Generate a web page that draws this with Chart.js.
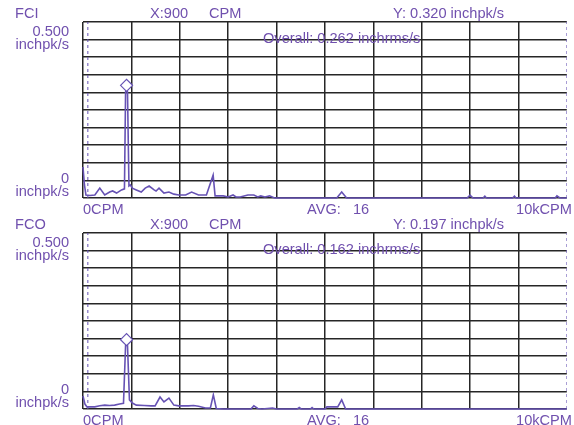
<!DOCTYPE html>
<html>
<head>
<meta charset="utf-8">
<script src="https://cdn.jsdelivr.net/npm/chart.js@4.4.0/dist/chart.umd.min.js"></script>
<style>
  html, body { margin: 0; padding: 0; background: #fff; }
  body { width: 574px; height: 425px; position: relative; overflow: hidden; }
  canvas { position: absolute; left: 0; }
  #fci { top: 0; }
  #fco { top: 211px; }
</style>
</head>
<body>
<canvas id="fci" width="574" height="214"></canvas>
<canvas id="fco" width="574" height="214"></canvas>
<script>
// spectrum points: frequency (CPM) and amplitude (inch/s pk)
const fciCpm = [0, 30, 61, 143, 245, 347, 449, 551, 612, 694, 796, 857, 880, 900, 920, 950, 980, 1020, 1102, 1204, 1286, 1367, 1470, 1510, 1571, 1673, 1776, 1878, 1980, 2122, 2245, 2388, 2551, 2690, 2730, 2898, 3000, 3102, 3163, 3250, 3408, 3531, 3612, 3673, 3760, 3857, 3959, 5245, 5347, 5449, 7939, 8000, 8061, 8270, 8306, 8340, 8880, 8918, 8950, 9760, 9796, 9857, 10000]
const fciAmp = [0.088, 0.037, 0.0085, 0.007, 0.0085, 0.028, 0.0085, 0.017, 0.02, 0.014, 0.023, 0.026, 0.3, 0.32, 0.3, 0.034, 0.037, 0.028, 0.023, 0.017, 0.028, 0.034, 0.023, 0.02, 0.028, 0.014, 0.017, 0.011, 0.0085, 0.0085, 0.017, 0.0085, 0.0085, 0.065, 0.006, 0.006, 0.003, 0.0085, 0.003, 0.003, 0.0085, 0.0085, 0.003, 0.006, 0.003, 0.006, 0, 0, 0.017, 0, 0, 0.008, 0, 0, 0.005, 0, 0, 0.005, 0, 0, 0.006, 0, 0]

const fcoCpm = [0, 40, 82, 245, 347, 449, 551, 653, 755, 837, 880, 900, 920, 960, 1020, 1102, 1265, 1408, 1490, 1592, 1673, 1776, 1878, 1980, 2184, 2286, 2388, 2531, 2633, 2694, 2755, 2898, 3470, 3531, 3612, 3700, 3918, 4000, 4430, 4470, 4510, 4700, 4735, 4770, 5000, 5041, 5265, 5347, 5429, 10000]
const fcoAmp = [0.037, 0.014, 0.006, 0.006, 0.009, 0.011, 0.01, 0.011, 0.014, 0.016, 0.18, 0.197, 0.18, 0.026, 0.017, 0.011, 0.01, 0.009, 0.009, 0.034, 0.02, 0.031, 0.011, 0.009, 0.009, 0.01, 0.008, 0.003, 0.003, 0.04, 0.0015, 0, 0, 0.009, 0.0015, 0, 0.003, 0, 0, 0.004, 0, 0, 0.004, 0, 0, 0.006, 0.006, 0.026, 0, 0]

const chartNames = ["FCI", "FCO"]
const peakCpm = [900, 900]
const peakAmp = [0.320, 0.197]
const overallRms = [0.262, 0.162]
const avgCount = 16
const cursorCpm = 100
const xMax = 10000
const yMax = 0.5

const textColor = "#7050ae"
const lineColor = "#6652b4"
const gridColor = "#262626"
const font = "14.6px 'Liberation Sans', Arial, sans-serif"

const labelsPlugin = {
  id: "labels",
  afterDraw(chart) {
    const o = chart.options.plugins.labels
    const ctx = chart.ctx
    ctx.save()
    ctx.font = font
    ctx.fillStyle = textColor
    ctx.textBaseline = "alphabetic"
    const put = (s, x, y, align) => {
      ctx.textAlign = align || "left"
      ctx.fillText(s, x, y)
    }
    put(o.name, 15, 18)
    put("X:" + o.peakCpm, 150, 18)
    put("CPM", 209, 18)
    put("Y: " + o.peakAmp.toFixed(3) + " inchpk/s", 393, 18)
    put("Overall: " + o.overall.toFixed(3) + " inchrms/s", 263, 43)
    put(yMax.toFixed(3), 69, 36, "right")
    put("inchpk/s", 69, 49, "right")
    put("0", 69, 183, "right")
    put("inchpk/s", 69, 196, "right")
    put("0CPM", 83, 214)
    put("AVG:", 307, 214)
    put(String(avgCount), 353, 214)
    put(xMax / 1000 + "kCPM", 572, 214, "right")
    ctx.restore()
  },
}

function makeChart(id, i, cpm, amp) {
  new Chart(document.getElementById(id), {
    type: "line",
    data: {
      datasets: [
        {
          data: [{ x: peakCpm[i], y: peakAmp[i] }],
          showLine: false,
          pointStyle: "rectRot",
          pointRadius: 6,
          pointBackgroundColor: "#fff",
          pointBorderColor: lineColor,
          pointBorderWidth: 1.2,
          order: 0,
        },
        {
          data: cpm.map((x, k) => ({ x: x, y: amp[k] })),
          borderColor: lineColor,
          borderWidth: 1.6,
          pointRadius: 0,
          tension: 0,
          clip: 4,
          order: 1,
        },
        {
          data: [{ x: cursorCpm, y: 0 }, { x: cursorCpm, y: yMax }],
          borderColor: lineColor,
          borderWidth: 1,
          borderDash: [3, 3],
          pointRadius: 0,
          order: 2,
        },
        {
          data: [{ x: xMax, y: 0 }, { x: xMax, y: yMax }],
          borderColor: lineColor,
          borderWidth: 1,
          borderDash: [3, 3],
          pointRadius: 0,
          order: 3,
        },
      ],
    },
    options: {
      responsive: false,
      maintainAspectRatio: false,
      animation: false,
      events: [],
      layout: { padding: { left: 83, right: 1, top: 22, bottom: 16 } },
      plugins: {
        legend: { display: false },
        tooltip: { enabled: false },
        labels: {
          name: chartNames[i],
          peakCpm: peakCpm[i],
          peakAmp: peakAmp[i],
          overall: overallRms[i],
        },
      },
      scales: {
        x: {
          type: "linear",
          min: 0,
          max: xMax,
          ticks: { display: false, stepSize: 1000 },
          grid: {
            drawTicks: false,
            lineWidth: 1.5,
            color: (c) => (c.tick && c.tick.value === xMax ? "rgba(0,0,0,0)" : gridColor),
          },
          border: { display: false },
        },
        y: {
          min: 0,
          max: yMax,
          ticks: { display: false, stepSize: 0.05 },
          grid: { drawTicks: false, lineWidth: 1.5, color: gridColor },
          border: { display: false },
        },
      },
    },
    plugins: [labelsPlugin],
  })
}

makeChart("fci", 0, fciCpm, fciAmp)
makeChart("fco", 1, fcoCpm, fcoAmp)
</script>
</body>
</html>
